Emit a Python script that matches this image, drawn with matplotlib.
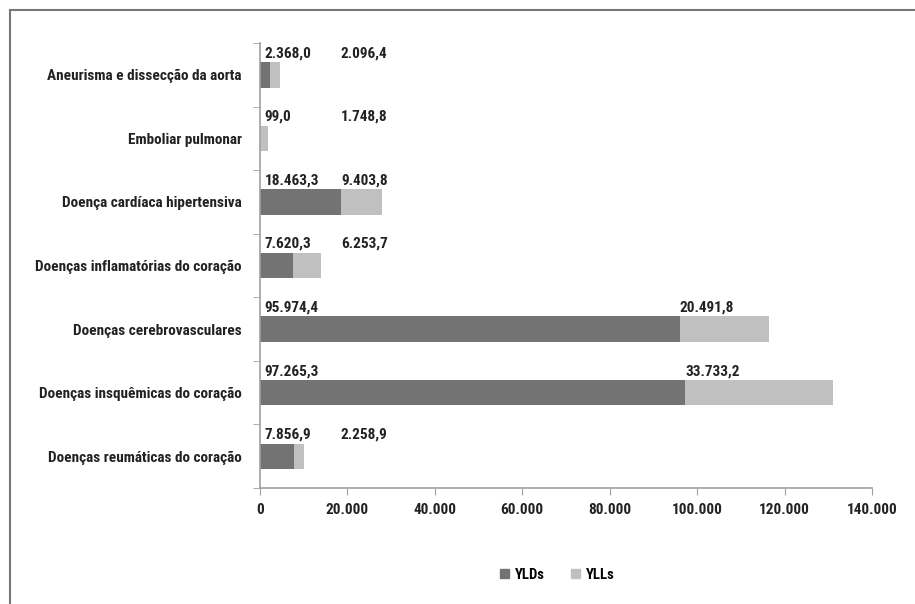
import numpy as np
import matplotlib
matplotlib.use("Agg")
import matplotlib.pyplot as plt
from matplotlib.lines import Line2D
from matplotlib.patches import Patch

# dados
categorias = [
    "Aneurisma e dissecção da aorta",
    "Emboliar pulmonar",
    "Doença cardíaca hipertensiva",
    "Doenças inflamatórias do coração",
    "Doenças cerebrovasculares",
    "Doenças insquêmicas do coração",
    "Doenças reumáticas do coração",
]
ylds = [2368.0, 99.0, 18463.3, 7620.3, 95974.4, 97265.3, 7856.9]
ylls = [2096.4, 1748.8, 9403.8, 6253.7, 20491.8, 33733.2, 2258.9]
xticks = [0, 20000, 40000, 60000, 80000, 100000, 120000, 140000]

def fmt(v, dec=1):
    s = f"{v:,.{dec}f}"
    return s.replace(",", "X").replace(".", ",").replace("X", ".")

plt.rcParams['font.family'] = ['Roboto Condensed', 'Open Sans Condensed', 'PT Sans Narrow', 'DejaVu Sans']
plt.rcParams['font.weight'] = 'bold'

cor_yld = "#737373"
cor_yll = "#c0c0c0"
cor_txt = "#222222"
cor_eixo = "#a0a0a0"
fs = 11

fig = plt.figure(figsize=(9.15, 6.04), dpi=100)
ax = fig.add_axes([0.2842, 0.192, 0.6688, 0.7368])

y = np.arange(len(categorias))
altura = 0.4
ax.barh(y, ylds, height=altura, color=cor_yld, label="YLDs")
ax.barh(y, ylls, left=ylds, height=altura, color=cor_yll, label="YLLs")

# rótulos de valores
for i in range(len(categorias)):
    ax.text(1000, y[i] - altura / 2 - 0.03, fmt(ylds[i]), ha="left", va="bottom",
            fontsize=fs, color=cor_txt, fontweight="bold")
    x_yll = max(ylds[i], 18500)
    ax.text(x_yll, y[i] - altura / 2 - 0.03, fmt(ylls[i]), ha="left", va="bottom",
            fontsize=fs, color=cor_txt, fontweight="bold")

ax.set_xlim(0, 140000)
ax.set_ylim(len(categorias) - 0.5, -0.5)
ax.set_xticks(xticks)
ax.set_xticklabels([fmt(t, 0) for t in xticks], fontsize=fs, color=cor_txt)
ax.set_yticks(y)
ax.set_yticklabels(categorias, fontsize=fs, color=cor_txt)
ax.set_yticks(np.arange(len(categorias) + 1) - 0.5, minor=True)
ax.tick_params(axis="y", which="major", length=0, pad=13)
ax.tick_params(axis="y", which="minor", length=5, color=cor_eixo, direction="out")
ax.tick_params(axis="x", length=5, color=cor_eixo, pad=6)

for s in ["top", "right"]:
    ax.spines[s].set_visible(False)
for s in ["left", "bottom"]:
    ax.spines[s].set_color(cor_eixo)
    ax.spines[s].set_linewidth(1.2)

# legenda
handles = [Patch(color=cor_yld, label="YLDs"), Patch(color=cor_yll, label="YLLs")]
fig.legend(handles=handles, loc="center", bbox_to_anchor=(0.609, 0.048), ncol=2,
           frameon=False, fontsize=10.5, handlelength=0.6, handleheight=0.6,
           columnspacing=1.8, handletextpad=0.4)

# moldura
fig.add_artist(Line2D([10 / 915, 1], [1 - 10 / 604, 1 - 10 / 604], color="#777777", lw=1.5))
fig.add_artist(Line2D([10 / 915, 10 / 915], [0, 1 - 10 / 604], color="#777777", lw=1.5))

fig.savefig("out.png", dpi=100)
